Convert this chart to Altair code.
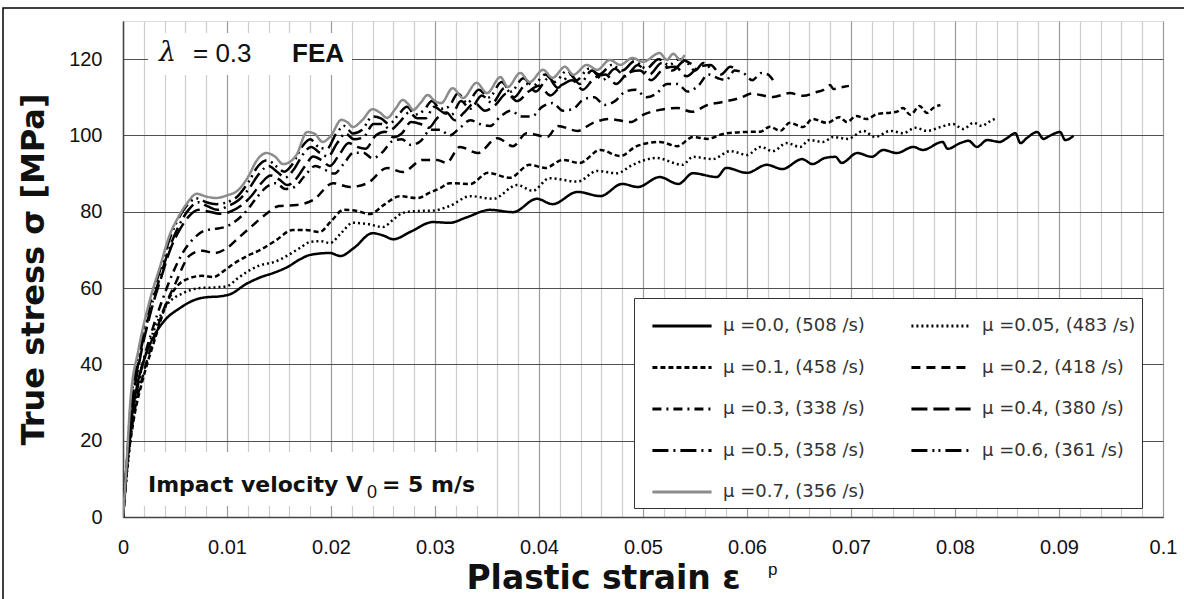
import altair as alt
import pandas as pd

series_names = [
    "μ =0.0, (508 /s)", "μ =0.05, (483 /s)", "μ =0.1, (458 /s)", "μ =0.2, (418 /s)",
    "μ =0.3, (338 /s)", "μ =0.4, (380 /s)", "μ =0.5, (358 /s)", "μ =0.6, (361 /s)",
    "μ =0.7, (356 /s)",
]
series_colors = ["#000000"] * 8 + ["#8c8c8c"]
series_dashes = [[1, 0], [2, 3], [5, 3], [9, 6], [9, 5, 2, 5], [16, 6],
                 [16, 5, 2, 5], [16, 5, 2, 4, 2, 5], [1, 0]]

# mu = 0.0
s0_x = [0, 0.0003, 0.0006, 0.001, 0.0014, 0.002, 0.003, 0.004, 0.0055, 0.0068, 0.008, 0.0092,
        0.0104, 0.0118, 0.0132, 0.0145, 0.0158, 0.017, 0.018, 0.0199, 0.0209, 0.0222, 0.024,
        0.025, 0.026, 0.0276, 0.0298, 0.0314, 0.033, 0.0353, 0.0375, 0.0398, 0.0413, 0.0437,
        0.0459, 0.048, 0.0495, 0.0516, 0.0534, 0.0548, 0.0571, 0.058, 0.06, 0.0619, 0.0634,
        0.0653, 0.0663, 0.0675, 0.0685, 0.0691, 0.0706, 0.072, 0.0731, 0.0744, 0.076, 0.0769,
        0.0788, 0.0793, 0.0805, 0.0813, 0.0821, 0.0831, 0.0843, 0.085, 0.0858, 0.0863, 0.0869,
        0.0879, 0.0885, 0.0891, 0.0901, 0.0906, 0.0914]
s0_y = [0, 12, 21, 29, 35, 41, 47.5, 51.5, 54.8, 56.8, 57.6, 57.8,
        58.5, 61, 62.8, 64, 65.5, 67.5, 68.7, 69.2, 68.4, 70.5, 74.4,
        73.8, 72.8, 74.7, 77.3, 77.1, 78.5, 80.5, 79.9, 83.4, 82.0, 85.2,
        84.1, 87.3, 86.5, 89.1, 87.3, 90.1, 89.1, 91.5, 90.2, 92.3, 91.2,
        93.8, 92.5, 94.1, 94.4, 92.8, 95.4, 94.4, 96.2, 95.4, 97.0, 96.2,
        98.3, 96.5, 98.0, 98.6, 97.0, 98.8, 98.3, 99.3, 100.6, 98.0, 99.3,
        100.9, 99.1, 99.9, 100.9, 98.8, 99.9]

# mu = 0.05
s1_x = [0, 0.0004, 0.0013, 0.0026, 0.0042, 0.0058, 0.0074, 0.009, 0.01, 0.011, 0.0122, 0.0132,
        0.0145, 0.0158, 0.017, 0.018, 0.019, 0.0199, 0.021, 0.0221, 0.0235, 0.025, 0.026,
        0.0269, 0.0283, 0.0298, 0.0314, 0.0334, 0.0356, 0.0379, 0.0394, 0.041, 0.0437, 0.0456,
        0.0475, 0.049, 0.0513, 0.0538, 0.0548, 0.0567, 0.0584, 0.06, 0.0613, 0.0625, 0.0638,
        0.0651, 0.066, 0.0673, 0.0683, 0.0697, 0.0712, 0.0723, 0.0738, 0.075, 0.0762, 0.0773,
        0.0786, 0.0798, 0.0808, 0.0818, 0.0826, 0.0831, 0.084]
s1_y = [0, 12, 32, 46, 55.5, 58.7, 60, 60.2, 60.5, 62.5, 64.7, 66,
        66.8, 68.5, 70.5, 72.1, 72.3, 71.8, 74.5, 77.1, 76.8, 76, 78,
        79.7, 80.2, 80.3, 81.5, 84.1, 83.4, 87, 85.5, 88.8, 87.9, 90.7,
        90.1, 92.3, 94.1, 92.3, 94.4, 93.8, 95.9, 94.9, 97, 95.9, 98,
        97, 98.8, 98.3, 99.6, 99.1, 101.2, 99.6, 101.2, 100.6, 102, 101.2,
        102.2, 103, 101.7, 103.3, 102.5, 103.3, 104.6]

# mu = 0.1
s2_x = [0, 0.0004, 0.001, 0.002, 0.003, 0.0042, 0.0052, 0.0064, 0.0076, 0.0087, 0.0097, 0.0106,
        0.012, 0.0132, 0.0147, 0.0163, 0.0176, 0.0189, 0.02, 0.0212, 0.0225, 0.0237, 0.0252,
        0.0266, 0.0283, 0.0295, 0.0305, 0.0314, 0.0334, 0.0351, 0.0372, 0.0391, 0.0406, 0.0423,
        0.0439, 0.0459, 0.0478, 0.0494, 0.0516, 0.0533, 0.0548, 0.0562, 0.0577, 0.0596, 0.0613,
        0.0622, 0.0632, 0.0641, 0.0654, 0.0663, 0.0677, 0.0689, 0.0696, 0.0705, 0.0715, 0.0725,
        0.0735, 0.0744, 0.075, 0.0757, 0.0766, 0.0773, 0.0779, 0.0786]
s2_y = [0, 13, 25, 37, 46, 56, 60.5, 62.6, 63.2, 62.9, 64.5, 66.3,
        68.5, 70, 72.5, 75.2, 75.2, 74.7, 77.5, 80.5, 80.2, 79.4, 82,
        84.1, 83.6, 85, 86.2, 87.5, 87.3, 90.2, 88.9, 92.3, 91.5, 93.6,
        92.8, 96.2, 94.6, 97.2, 98.3, 97.2, 99.6, 99.1, 100.4, 100.9, 101,
        102.3, 101.2, 103.3, 102.2, 104.3, 103.3, 104.8, 103.5, 105.1, 104.3, 105.6,
        105.9, 106.2, 107.2, 105.4, 107.7, 105.9, 107.2, 108]

# mu = 0.2
s3_x = [0, 0.0004, 0.001, 0.002, 0.003, 0.004, 0.005, 0.0064, 0.0076, 0.0088, 0.01, 0.0112,
        0.0125, 0.0138, 0.015, 0.0167, 0.0183, 0.0202, 0.0218, 0.0235, 0.0254, 0.0269, 0.0288,
        0.0302, 0.0311, 0.0324, 0.0341, 0.036, 0.0375, 0.0388, 0.0408, 0.0418, 0.0437, 0.0452,
        0.0468, 0.0488, 0.05, 0.0516, 0.0533, 0.0547, 0.0562, 0.0577, 0.0593, 0.0605, 0.0613,
        0.0625, 0.0641, 0.0654, 0.0667, 0.0673, 0.068, 0.0683, 0.0692, 0.0698]
s3_y = [0, 14, 26, 38, 47, 55, 61, 68.5, 69.8, 69.2, 70.5, 73.4,
        76.5, 79.5, 81.5, 81.8, 83.1, 87.5, 86.5, 87.5, 91.5, 90.4, 93.6,
        93.6, 92.8, 97, 95.4, 99.3, 97.2, 100.6, 99.6, 102.5, 101.2, 103.3,
        104.3, 103.5, 105.4, 106.7, 107.2, 106.2, 108, 108.8, 109.8, 111, 110.6,
        110.1, 111.1, 110.4, 111.4, 111.9, 113.2, 112.2, 112.7, 113]

# mu = 0.3
s4_x = [0, 0.0004, 0.0009, 0.0017, 0.0027, 0.0038, 0.0048, 0.0058, 0.0068, 0.0078, 0.0088,
        0.0098, 0.0108, 0.0118, 0.0128, 0.0138, 0.0147, 0.0156, 0.0165, 0.0175, 0.0185, 0.0194,
        0.0203, 0.0212, 0.0222, 0.0231, 0.024, 0.0249, 0.0259, 0.0268, 0.0277, 0.0286, 0.0296,
        0.0305, 0.0314, 0.0324, 0.0334, 0.0343, 0.0353, 0.0363, 0.0373, 0.0383, 0.0393, 0.0403,
        0.0413, 0.0423, 0.0433, 0.0443, 0.0453, 0.0463, 0.0473, 0.0483, 0.0493, 0.0503, 0.0513,
        0.0523, 0.0533, 0.0543, 0.0553, 0.0563, 0.0572, 0.058, 0.0588, 0.0596, 0.0605, 0.0614,
        0.062, 0.0625]
s4_y = [0, 15, 26, 38, 48, 57, 64, 69.5, 73, 75, 75.5,
        76, 77.5, 80, 83.5, 86.5, 87.5, 86, 86.5, 89.5, 92, 91,
        90, 92.5, 95.5, 95.5, 94, 95.5, 98.5, 99, 97.5, 98.5, 101.5,
        101.5, 100, 102, 104, 103, 102.5, 105, 106.5, 105, 105, 107.5,
        108.5, 106.5, 107, 109.5, 110, 108, 109, 111.5, 112, 110, 111,
        113.5, 113.5, 111.5, 113, 116, 115, 114.5, 117, 116.5, 114.5, 116.4,
        116, 114.5]

# mu = 0.4
s5_x = [0, 0.0003, 0.0008, 0.0016, 0.0026, 0.0037, 0.0046, 0.0055, 0.0064, 0.0073, 0.0083,
        0.0093, 0.0103, 0.0113, 0.0123, 0.0133, 0.0142, 0.015, 0.0158, 0.0166, 0.0175, 0.0183,
        0.0191, 0.0199, 0.0208, 0.0217, 0.0225, 0.0233, 0.0243, 0.0252, 0.026, 0.0268, 0.0277,
        0.0286, 0.0294, 0.0302, 0.0311, 0.0319, 0.0328, 0.0338, 0.0348, 0.0358, 0.0369, 0.0379,
        0.039, 0.04, 0.0411, 0.0421, 0.0432, 0.0442, 0.0453, 0.0464, 0.0474, 0.0486, 0.0497,
        0.0508, 0.052, 0.0531, 0.0542, 0.0554, 0.0565, 0.0575, 0.0584, 0.059]
s5_y = [0, 10, 27, 41, 53, 63, 70.5, 75.5, 79, 80.5, 80,
        79.5, 80, 81.5, 84, 87.5, 89.5, 88.5, 87, 88.5, 92, 94.5,
        93.5, 92, 95, 98, 97, 96.5, 100, 101, 99.5, 100.5, 103.5,
        103, 102, 104.5, 106, 104, 106, 108.5, 106.5, 108, 111, 109,
        111.5, 113, 110.5, 113, 114.5, 112, 115, 116, 113.5, 116.5, 117,
        114.5, 117.5, 118, 115.5, 118, 118.5, 116, 118, 117]

# mu = 0.5
s6_x = [0, 0.0003, 0.0008, 0.0016, 0.0026, 0.0037, 0.0046, 0.0054, 0.0063, 0.0072, 0.0081,
        0.0091, 0.0101, 0.0111, 0.0121, 0.0131, 0.014, 0.0148, 0.0156, 0.0164, 0.0173, 0.0181,
        0.0189, 0.0197, 0.0206, 0.0214, 0.0222, 0.0231, 0.0241, 0.0249, 0.0257, 0.0266, 0.0275,
        0.0283, 0.0291, 0.0299, 0.0308, 0.0316, 0.0325, 0.0334, 0.0345, 0.0355, 0.0367, 0.0376,
        0.0388, 0.0397, 0.0409, 0.0418, 0.043, 0.0439, 0.0451, 0.0461, 0.0473, 0.0483, 0.0495,
        0.0506, 0.0518, 0.0528, 0.054, 0.055, 0.0558, 0.0565]
s6_y = [0, 11, 28, 42, 54, 64, 71.5, 76.5, 80.5, 82.5, 81.5,
        80.5, 81.5, 83, 86, 90, 92, 90.5, 89, 91, 95, 97,
        95.5, 94.5, 98, 100.5, 99, 99.5, 103, 103, 101.5, 103.5, 106,
        104.5, 104.5, 107.5, 106, 105.5, 109, 107, 110.5, 108.5, 112.5, 110,
        113.5, 111.5, 115, 112.5, 116, 113.5, 117, 114.5, 117.5, 115.5, 118.5,
        116, 119, 117, 119.5, 117, 119, 117.5]

# mu = 0.6
s7_x = [0, 0.0003, 0.0007, 0.0015, 0.0025, 0.0036, 0.0045, 0.0052, 0.0061, 0.0071, 0.008,
        0.009, 0.01, 0.011, 0.012, 0.013, 0.0139, 0.0147, 0.0155, 0.0163, 0.0172, 0.018,
        0.0188, 0.0196, 0.0205, 0.0213, 0.0221, 0.023, 0.024, 0.0248, 0.0256, 0.0265, 0.0273,
        0.0281, 0.0289, 0.0297, 0.0305, 0.0313, 0.0322, 0.0331, 0.0342, 0.0352, 0.0364, 0.0373,
        0.0385, 0.0394, 0.0406, 0.0415, 0.0427, 0.0436, 0.0448, 0.0458, 0.047, 0.048, 0.0492,
        0.0503, 0.0515, 0.0525, 0.0535, 0.0548]
s7_y = [0, 11, 28, 43, 55, 65, 73, 77.5, 81.5, 83.5, 82.5,
        82, 82.5, 84, 87.5, 92, 93.5, 92, 90.5, 92.5, 97, 99,
        97, 96.5, 100.5, 102.5, 100.5, 101.5, 105, 104.5, 103, 105.5, 107.5,
        105.5, 106.5, 109, 107, 107.5, 111, 108.5, 112, 110, 114, 111.5,
        115, 113, 116, 114, 117, 114.5, 117.5, 116, 118.5, 117, 119.5,
        117.5, 120, 118.5, 120, 118.5]

# mu = 0.7
s8_x = [0, 0.0003, 0.0007, 0.0015, 0.0025, 0.0036, 0.0045, 0.0052, 0.0061, 0.0071, 0.008,
        0.0089, 0.01, 0.011, 0.012, 0.0129, 0.0138, 0.0146, 0.0154, 0.016, 0.0167, 0.0177,
        0.0184, 0.0192, 0.02, 0.021, 0.0216, 0.0221, 0.023, 0.024, 0.0247, 0.0254, 0.0262,
        0.0269, 0.0274, 0.0279, 0.0286, 0.0293, 0.03, 0.0306, 0.0317, 0.0327, 0.034, 0.035,
        0.0363, 0.037, 0.0382, 0.0391, 0.0404, 0.0413, 0.0425, 0.0433, 0.0446, 0.0456, 0.0468,
        0.0478, 0.049, 0.05, 0.0516, 0.0523, 0.0529, 0.0536, 0.054]
s8_y = [0, 12, 30, 44, 56, 66, 74, 78, 82, 84.7, 84,
        83.6, 84.3, 85.5, 89, 93.6, 95.4, 94.5, 92.5, 93, 95, 100.9,
        100.5, 98.3, 100, 104.1, 103.4, 102.2, 104, 106.9, 106, 104.6, 107,
        109.3, 108.3, 106.7, 108.5, 110.6, 109, 108.5, 112.4, 109.8, 113.8, 111.1,
        115.3, 112.7, 116.4, 114, 117.2, 115.1, 118, 115.9, 118.5, 117.2, 119.8,
        118.5, 120.3, 119.3, 121.6, 119.8, 121.4, 119.8, 121.1]

all_x = [s0_x, s1_x, s2_x, s3_x, s4_x, s5_x, s6_x, s7_x, s8_x]
all_y = [s0_y, s1_y, s2_y, s3_y, s4_y, s5_y, s6_y, s7_y, s8_y]

x_tick_values = [round(i * 0.002, 3) for i in range(51)]
y_tick_values = [0, 20, 40, 60, 80, 100, 120]

rows = []
for k, name in enumerate(series_names):
    for j, (sx, sy) in enumerate(zip(all_x[k], all_y[k])):
        rows.append({"series": name, "strain": sx, "stress": sy, "k": k, "j": j})
df = pd.DataFrame(rows)

major_test = "abs(datum.value*100 - round(datum.value*100)) < 0.001"

x_axis = alt.Axis(
    values=x_tick_values,
    labelExpr=f"{major_test} ? (datum.value == 0 ? '0' : toString(round(datum.value*100)/100)) : ''",
    gridColor={"condition": {"test": major_test, "value": "#9a9a9a"}, "value": "#cdcdcd"},
    gridWidth=1.2,
    ticks=False,
    labelPadding=20,
    labelFontSize=20,
    labelFont="Liberation Sans",
    labelColor="#111",
    labelOverlap=False,
    labelFlush=False,
    domain=True,
    domainColor="#444",
    domainWidth=1.5,
    title="Plastic strain ε",
    titleFont="DejaVu Sans",
    titleFontSize=33,
    titleFontWeight="bold",
    titleColor="#111",
    titleX=480,
    titleY=61,
    titleBaseline="middle",
    titleAlign="center",
)

y_axis = alt.Axis(
    values=y_tick_values,
    gridColor="#505050",
    gridWidth=1.2,
    ticks=False,
    labelPadding=21,
    labelFontSize=20,
    labelFont="Liberation Sans",
    labelColor="#111",
    domainColor="#444",
    domainWidth=1.5,
    title="True stress σ [MPa]",
    titleFont="DejaVu Sans",
    titleFontSize=32,
    titleFontWeight="bold",
    titleColor="#111",
    titleX=-90,
    titleY=248,
    titleAngle=270,
    titleBaseline="middle",
    titleAlign="center",
)

legend = alt.Legend(
    title=" ",
    titleFontSize=10,
    titlePadding=2,
    orient="none",
    legendX=511,
    legendY=277,
    columns=2,
    direction="horizontal",
    fillColor="white",
    strokeColor="#333",
    padding=6,
    symbolType="stroke",
    symbolSize=3500,
    symbolStrokeWidth=2.8,
    symbolOffset=11,
    clipHeight=20,
    rowPadding=21.5,
    columnPadding=34,
    labelOffset=10,
    labelFont="DejaVu Sans",
    labelFontSize=18,
    labelColor="#333",
    labelLimit=400,
)

lines = alt.Chart(df).mark_line(strokeWidth=2.5, interpolate="monotone", clip=True).encode(
    x=alt.X("strain:Q", scale=alt.Scale(domain=[0, 0.1], nice=False), axis=x_axis),
    y=alt.Y("stress:Q", scale=alt.Scale(domain=[0, 130], nice=False), axis=y_axis),
    color=alt.Color("series:N", scale=alt.Scale(domain=series_names, range=series_colors), legend=legend),
    strokeDash=alt.StrokeDash("series:N", scale=alt.Scale(domain=series_names, range=series_dashes), legend=legend),
    order=alt.Order("j:Q"),
)

one = pd.DataFrame({"a": [0]})

box_lambda = alt.Chart(one).mark_rect(fill="white").encode(
    x=alt.value(25), x2=alt.value(229), y=alt.value(12), y2=alt.value(54))
box_impact = alt.Chart(one).mark_rect(fill="white").encode(
    x=alt.value(7), x2=alt.value(360), y=alt.value(431), y2=alt.value(485))

t_lambda = alt.Chart(one).mark_text(align="left", baseline="middle", fontSize=27, font="DejaVu Serif",
                                    fontStyle="italic", color="#111").encode(
    x=alt.value(36), y=alt.value(32), text=alt.value("λ"))
t_eq = alt.Chart(one).mark_text(align="left", baseline="middle", fontSize=26, font="Liberation Sans",
                                color="#111").encode(
    x=alt.value(70), y=alt.value(33), text=alt.value("= 0.3"))
t_fea = alt.Chart(one).mark_text(align="left", baseline="middle", fontSize=26, font="Liberation Sans",
                                 fontWeight="bold", color="#111").encode(
    x=alt.value(169), y=alt.value(33), text=alt.value("FEA"))
t_impact = alt.Chart(one).mark_text(align="left", baseline="alphabetic", fontSize=22, font="DejaVu Sans",
                                    fontWeight="bold", color="#111").encode(
    x=alt.value(25), y=alt.value(471), text=alt.value("Impact velocity V"))
t_sub = alt.Chart(one).mark_text(align="left", baseline="alphabetic", fontSize=18, font="Liberation Sans",
                                 color="#111").encode(
    x=alt.value(244), y=alt.value(477), text=alt.value("0"))
t_impact2 = alt.Chart(one).mark_text(align="left", baseline="alphabetic", fontSize=22, font="DejaVu Sans",
                                     fontWeight="bold", color="#111").encode(
    x=alt.value(259), y=alt.value(471), text=alt.value("= 5 m/s"))
t_sup = alt.Chart(one).mark_text(align="left", baseline="middle", fontSize=17, font="Liberation Sans",
                                 color="#111").encode(
    x=alt.value(645), y=alt.value(549), text=alt.value("p"))

frame = alt.Chart(one).mark_rect(filled=False, stroke="black", strokeWidth=1.5).encode(
    x=alt.value(-120), x2=alt.value(1100), y=alt.value(-13), y2=alt.value(620))

chart = alt.layer(
    box_lambda, box_impact, lines, t_lambda, t_eq, t_fea, t_impact, t_sub, t_impact2, t_sup, frame
).properties(
    width=1040, height=496,
    autosize=alt.AutoSizeParams(type="none"),
    padding={"left": 123, "top": 21, "right": 21, "bottom": 82},
).configure_view(stroke="#8a8a8a", strokeWidth=1.5).configure(background="white")

chart.save("out.html", embed_options={"renderer": "svg", "actions": False})
